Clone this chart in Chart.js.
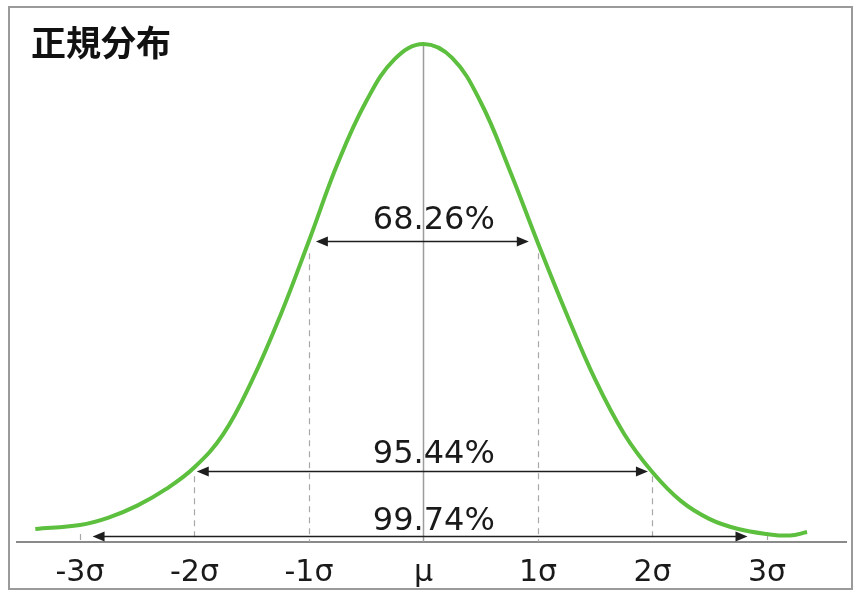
<!DOCTYPE html>
<html><head><meta charset="utf-8">
<script src="https://cdn.jsdelivr.net/npm/chart.js@4/dist/chart.umd.min.js"></script>
<style>html,body{margin:0;padding:0;background:#fff}#wrap{width:860px;height:596px;position:relative}</style>
</head><body><div id="wrap"><canvas id="c" width="860" height="596"></canvas></div>
<script>
// ---- data (x in σ units, y relative height, peak = 1) ----
const sigmaTicks = [-3, -2, -1, 0, 1, 2, 3];
const tickLabels = ['-3σ', '-2σ', '-1σ', 'μ', '1σ', '2σ', '3σ'];
const curveX = [-3.39, -3.00, -2.75, -2.50, -2.25, -2.00, -1.75, -1.50, -1.25, -1.00, -0.75, -0.50, -0.25, 0.00, 0.25, 0.50, 0.75, 1.00, 1.25, 1.50, 1.75, 2.00, 2.25, 2.50, 2.75, 3.00, 3.20, 3.35];
const curveY = [0.026, 0.034, 0.049, 0.073, 0.106, 0.150, 0.216, 0.323, 0.455, 0.605, 0.760, 0.885, 0.970, 1.000, 0.972, 0.883, 0.748, 0.600, 0.458, 0.326, 0.218, 0.140, 0.082, 0.046, 0.026, 0.016, 0.013, 0.020];
const bandLabels = ['68.26%', '95.44%', '99.74%'];
const bandLeft = [-0.94, -1.98, -2.89];
const bandRight = [0.92, 1.96, 2.83];
const bandLevel = [0.605, 0.142, 0.012];
const labelLevel = [0.629, 0.158, 0.024];
const guideTop = [0.58, 0.132, 0.016];
const titleText = '正規分布';

const overlay = {
  id: 'overlay',
  beforeDraw(chart) {
    const ctx = chart.ctx;
    ctx.save();
    ctx.fillStyle = '#fff';
    ctx.fillRect(0, 0, chart.width, chart.height);
    ctx.strokeStyle = '#9a9a9a';
    ctx.lineWidth = 2;
    ctx.strokeRect(9, 7, 843, 582);
    ctx.restore();
  },
  beforeDatasetsDraw(chart) {
    const { ctx, scales: { x, y } } = chart;
    ctx.save();
    // μ line
    ctx.strokeStyle = '#9c9c9c';
    ctx.lineWidth = 1.5;
    const mx = Math.round(x.getPixelForValue(0)) + 0.5;
    ctx.beginPath();
    ctx.moveTo(mx, y.getPixelForValue(0));
    ctx.lineTo(mx, y.getPixelForValue(1));
    ctx.stroke();
    // dashed guides
    ctx.setLineDash([6, 5]);
    ctx.strokeStyle = '#a8a8a8';
    ctx.lineWidth = 1.2;
    for (let i = 0; i < 3; i++) {
      for (const sg of [-1, 1]) {
        const px = Math.round(x.getPixelForValue(sg * (i + 1))) + 0.5;
        ctx.beginPath();
        ctx.moveTo(px, y.getPixelForValue(guideTop[i]));
        ctx.lineTo(px, y.getPixelForValue(0));
        ctx.stroke();
      }
    }
    ctx.setLineDash([]);
    // arrows
    ctx.strokeStyle = '#1e1e1e';
    ctx.fillStyle = '#1e1e1e';
    ctx.lineWidth = 1.6;
    const hl = 12, hw = 5;
    for (let i = 0; i < 3; i++) {
      const xl = x.getPixelForValue(bandLeft[i]);
      const xr = x.getPixelForValue(bandRight[i]);
      const py = Math.round(y.getPixelForValue(bandLevel[i])) + 0.5;
      ctx.beginPath();
      ctx.moveTo(xl + hl - 1, py);
      ctx.lineTo(xr - hl + 1, py);
      ctx.stroke();
      ctx.beginPath();
      ctx.moveTo(xl, py); ctx.lineTo(xl + hl, py - hw); ctx.lineTo(xl + hl, py + hw); ctx.closePath(); ctx.fill();
      ctx.beginPath();
      ctx.moveTo(xr, py); ctx.lineTo(xr - hl, py - hw); ctx.lineTo(xr - hl, py + hw); ctx.closePath(); ctx.fill();
    }
    // percentage labels
    ctx.fillStyle = '#1a1a1a';
    ctx.font = '32px "DejaVu Sans"';
    ctx.textAlign = 'center';
    ctx.textBaseline = 'alphabetic';
    for (let i = 0; i < 3; i++) {
      ctx.fillText(bandLabels[i], x.getPixelForValue(0.09), y.getPixelForValue(labelLevel[i]));
    }
    // title
    ctx.font = 'bold 35px "Noto Sans CJK JP"';
    ctx.textAlign = 'left';
    ctx.textBaseline = 'middle';
    ctx.fillStyle = '#111';
    ctx.fillText(titleText, 31, 43);
    ctx.restore();
  }
};

new Chart(document.getElementById('c'), {
  type: 'scatter',
  data: {
    datasets: [{
      data: curveX.map((v, i) => ({ x: v, y: curveY[i] })),
      showLine: true,
      borderColor: '#5dbf3e',
      borderWidth: 4,
      pointRadius: 0,
      tension: 0.4,
      clip: false,
      fill: false
    }]
  },
  options: {
    responsive: false,
    animation: false,
    events: [],
    devicePixelRatio: 1,
    layout: { padding: { left: 17, right: 14, top: 44, bottom: -8 } },
    plugins: { legend: { display: false }, tooltip: { enabled: false }, title: { display: false } },
    scales: {
      x: {
        type: 'linear', min: -3.55, max: 3.69,
        afterBuildTicks: s => { s.ticks = sigmaTicks.map(v => ({ value: v })); },
        grid: { display: false, drawTicks: false },
        border: { display: true, color: '#8a8a8a', width: 2 },
        ticks: {
          padding: 13, autoSkip: false, maxRotation: 0, color: '#1a1a1a',
          font: { family: 'DejaVu Sans', size: 30, lineHeight: 1.2 },
          callback: (v) => tickLabels[sigmaTicks.indexOf(v)]
        }
      },
      y: { display: false, min: 0, max: 1 }
    }
  },
  plugins: [overlay]
});
</script></body></html>
